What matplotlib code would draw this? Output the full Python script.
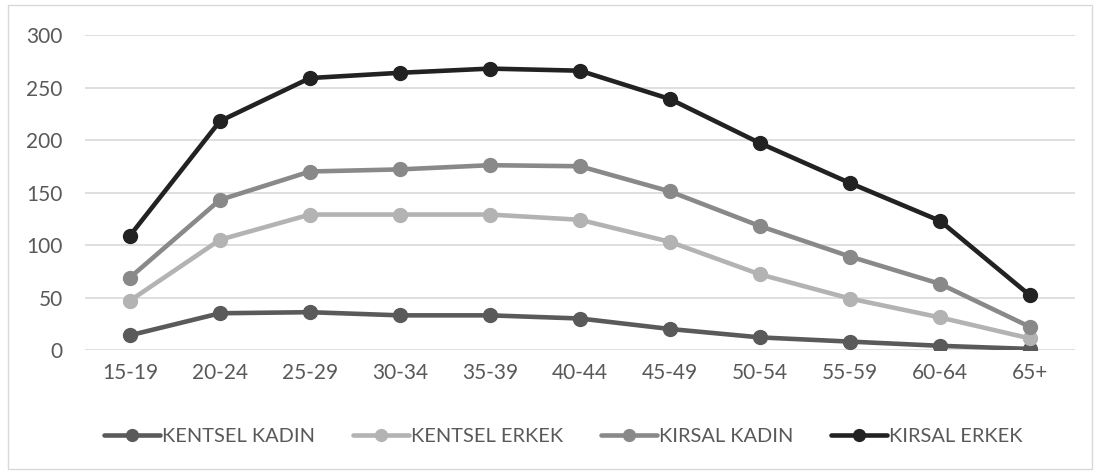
import matplotlib.pyplot as plt
from matplotlib.patches import Rectangle

plt.rcParams['font.family'] = ['Lato', 'DejaVu Sans']

age_groups = ['15-19', '20-24', '25-29', '30-34', '35-39', '40-44',
              '45-49', '50-54', '55-59', '60-64', '65+']
kentsel_kadin = [14, 35, 36, 33, 33, 30, 20, 12, 8, 4, 1]
kentsel_erkek = [47, 105, 129, 129, 129, 124, 103, 72, 49, 31, 11]
kirsal_kadin = [69, 143, 170, 172, 176, 175, 151, 118, 89, 63, 22]
kirsal_erkek = [109, 218, 259, 264, 268, 266, 239, 197, 159, 123, 52]

series = [
    ('KENTSEL KADIN', kentsel_kadin, '#5a5a5a'),
    ('KENTSEL ERKEK', kentsel_erkek, '#b3b3b3'),
    ('KIRSAL KADIN', kirsal_kadin, '#898989'),
    ('KIRSAL ERKEK', kirsal_erkek, '#222222'),
]

fig = plt.figure(figsize=(11, 4.73), dpi=100)
ax = fig.add_axes([85 / 1100, 1 - 350 / 473, 990 / 1100, 315 / 473])

x = list(range(len(age_groups)))
for name, vals, col in series:
    ax.plot(x, vals, color=col, lw=3.3, marker='o', ms=10, label=name,
            solid_capstyle='round', zorder=3)

ax.set_xlim(-0.5, len(age_groups) - 0.5)
ax.set_ylim(0, 300)
ax.set_yticks(range(0, 301, 50))
ax.set_xticks(x)
ax.set_xticklabels(age_groups)
ax.grid(axis='y', color='#d9d9d9', lw=1.2)
ax.set_axisbelow(True)
for s in ax.spines.values():
    s.set_visible(False)
ax.tick_params(length=0, labelsize=15, colors='#595959', pad=9)
ax.tick_params(axis='y', pad=16)

fig.legend(loc='center', bbox_to_anchor=(0.512, 1 - 436 / 473), ncol=4,
           frameon=False, fontsize=14.4, handlelength=2.8, handletextpad=0.1,
           columnspacing=1.9, labelcolor='#595959', markerscale=0.85)

fig.patches.append(Rectangle((8 / 1100, 4 / 473), 1084 / 1100, 464 / 473,
                             transform=fig.transFigure, fill=False,
                             edgecolor='#d9d9d9', lw=1))

fig.savefig('out.png', dpi=100)
